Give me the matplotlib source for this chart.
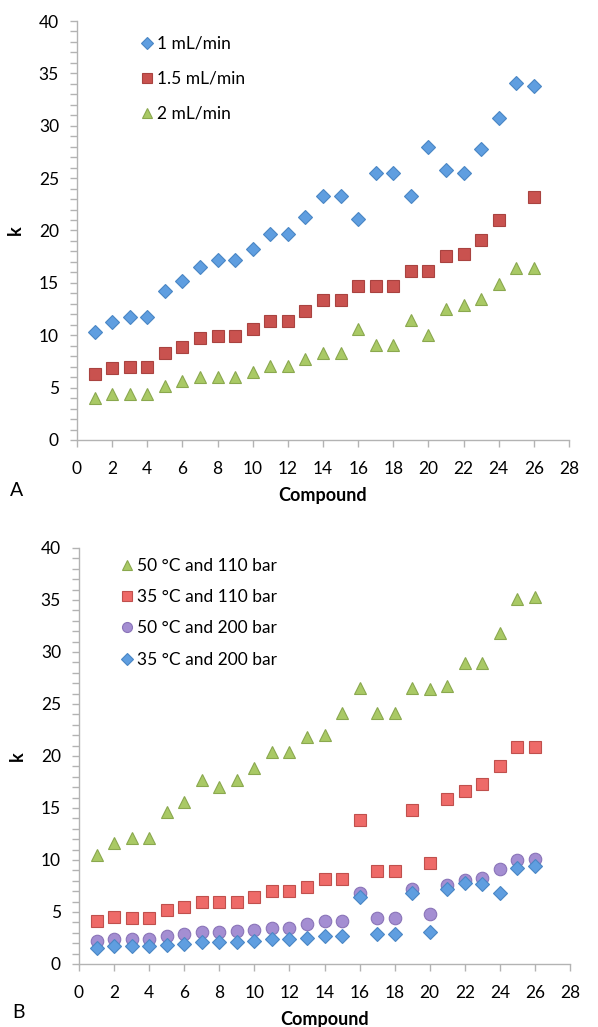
import numpy as np
import matplotlib
matplotlib.use("Agg")
import matplotlib.pyplot as plt
from matplotlib.ticker import MultipleLocator

plt.rcParams['font.family'] = ['Lato', 'DejaVu Sans']

compounds = list(range(1, 27))

# Panel A
a_1ml = [10.3, 11.3, 11.7, 11.7, 14.2, 15.2, 16.5, 17.2, 17.2, 18.2, 19.7, 19.7, 21.3,
         23.3, 23.3, 21.1, 25.5, 25.5, 23.3, 28.0, 25.8, 25.5, 27.8, 30.7, 34.1, 33.8]
a_15ml = [6.3, 6.9, 7.0, 7.0, 8.3, 8.9, 9.7, 9.9, 9.9, 10.6, 11.4, 11.4, 12.3,
          13.4, 13.4, 14.7, 14.7, 14.7, 16.1, 16.1, 17.6, 17.8, 19.1, 21.0, np.nan, 23.2]
a_2ml = [4.0, 4.4, 4.4, 4.4, 5.2, 5.6, 6.0, 6.0, 6.0, 6.5, 7.1, 7.1, 7.7,
         8.3, 8.3, 10.6, 9.1, 9.1, 11.5, 10.0, 12.5, 12.9, 13.5, 14.9, 16.4, 16.4]

# Panel B
b_50_110 = [10.5, 11.6, 12.1, 12.1, 14.6, 15.6, 17.7, 17.0, 17.7, 18.8, 20.4, 20.4, 21.8,
            22.0, 24.1, 26.5, 24.1, 24.1, 26.5, 26.4, 26.7, 28.9, 28.9, 31.8, 35.1, 35.3]
b_35_110 = [4.1, 4.5, 4.4, 4.4, 5.2, 5.5, 6.0, 6.0, 6.0, 6.4, 7.0, 7.0, 7.4,
            8.2, 8.2, 13.8, 8.9, 8.9, 14.8, 9.7, 15.9, 16.6, 17.3, 19.0, 20.9, 20.9]
b_50_200 = [2.2, 2.4, 2.4, 2.4, 2.7, 2.9, 3.1, 3.1, 3.2, 3.3, 3.5, 3.5, 3.8,
            4.1, 4.1, 6.8, 4.4, 4.4, 7.2, 4.8, 7.6, 8.1, 8.3, 9.1, 10.0, 10.1]
b_35_200 = [1.5, 1.7, 1.7, 1.7, 1.8, 1.9, 2.1, 2.1, 2.1, 2.2, 2.4, 2.4, 2.5,
            2.7, 2.7, 6.4, 2.9, 2.9, 6.8, 3.1, 7.2, 7.8, 7.7, 6.8, 9.2, 9.4]

x_ticks = list(range(0, 29, 2))
y_ticks = list(range(0, 41, 5))

fig = plt.figure(figsize=(5.98, 10.27), dpi=100)
axA = fig.add_axes([77/598, 1-440/1027, 492/598, 419/1027])
axB = fig.add_axes([79/598, 1-964/1027, 491/598, 416/1027])

spine_col = '#b3b3b3'
FS = 12.5

def style(ax):
    ax.set_xlim(0, 28)
    ax.set_ylim(0, 40)
    ax.set_xticks(x_ticks)
    ax.set_yticks(y_ticks)
    ax.yaxis.set_minor_locator(MultipleLocator(1))
    for s in ['top', 'right']:
        ax.spines[s].set_visible(False)
    for s in ['left', 'bottom']:
        ax.spines[s].set_color(spine_col)
        ax.spines[s].set_linewidth(1.0)
    ax.tick_params(axis='both', which='both', direction='out', color=spine_col,
                   length=5, width=1.0, labelsize=FS, pad=8)
    ax.tick_params(axis='x', which='major', pad=10)
    ax.tick_params(axis='y', which='minor', length=5)
    ax.set_xlabel('Compound', fontsize=13, fontweight='bold', labelpad=7)
    ax.set_ylabel('k', fontsize=13, fontweight='bold', labelpad=11)

# Panel A
axA.plot(compounds, a_1ml, linestyle='none', marker='D', ms=7.2, mfc='#5f9ee0', mec='#4a86c5',
         mew=0.8, label='1 mL/min')
axA.plot(compounds, a_15ml, linestyle='none', marker='s', ms=8.5, mfc='#c9524f', mec='#a94340',
         mew=0.8, label='1.5 mL/min')
axA.plot(compounds, a_2ml, linestyle='none', marker='^', ms=9, mfc='#a9c965', mec='#8aa84e',
         mew=0.8, label='2 mL/min')
style(axA)
legA = axA.legend(loc='upper left', bbox_to_anchor=(0.1, 1.002), frameon=False, fontsize=FS,
                  handlelength=0.6, handletextpad=0.3, labelspacing=1.09, markerscale=0.8)

# Panel B
axB.plot(compounds, b_50_110, linestyle='none', marker='^', ms=9, mfc='#a9c965', mec='#8aa84e',
         mew=0.8, label='50 °C and 110 bar', zorder=3)
axB.plot(compounds, b_35_110, linestyle='none', marker='s', ms=8.5, mfc='#ee6a68', mec='#c0504d',
         mew=0.8, label='35 °C and 110 bar', zorder=3)
axB.plot(compounds, b_50_200, linestyle='none', marker='o', ms=9, mfc='#a48ed2', mec='#8a74b8',
         mew=0.8, label='50 °C and 200 bar', zorder=3)
axB.plot(compounds, b_35_200, linestyle='none', marker='D', ms=7.2, mfc='#5f9ee0', mec='#4a86c5',
         mew=0.8, label='35 °C and 200 bar', zorder=4)
style(axB)
legB = axB.legend(loc='upper left', bbox_to_anchor=(0.055, 1.014), frameon=False, fontsize=FS,
                  handlelength=0.6, handletextpad=0.3, labelspacing=0.88, markerscale=0.8)

fig.text(10/598, 1-490/1027, 'A', fontsize=14, va='center', ha='left')
fig.text(12/598, 1-1012/1027, 'B', fontsize=14, va='center', ha='left')

fig.savefig('out.png', dpi=100)
